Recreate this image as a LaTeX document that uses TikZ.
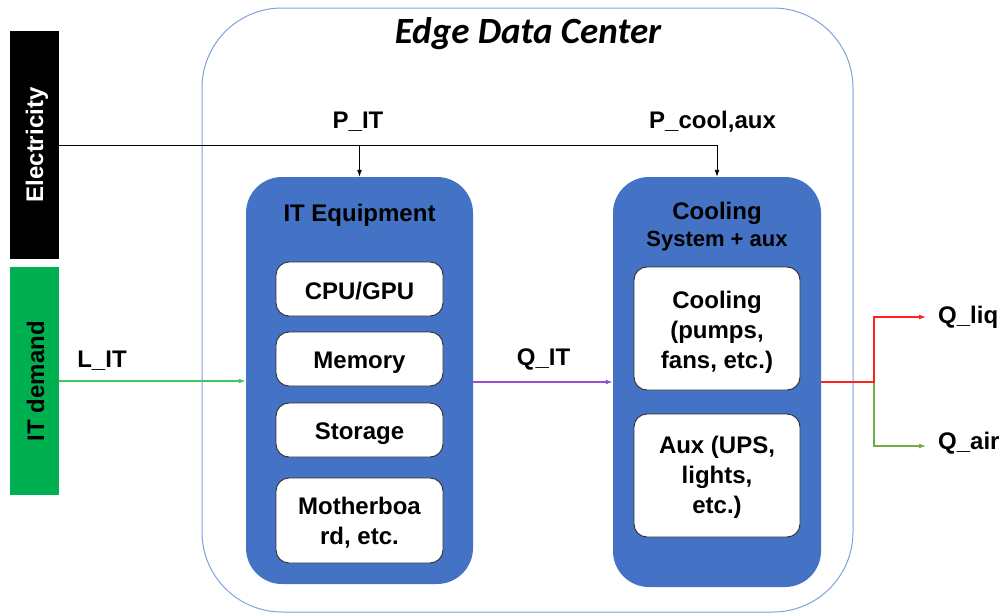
\documentclass[tikz,border=0pt]{standalone}
\usepackage{fontspec}
\setmainfont{Liberation Sans}
\newfontfamily\titlefont{Carlito}
\usetikzlibrary{arrows.meta}

\definecolor{itblue}{HTML}{4472C4}
\definecolor{hullblue}{HTML}{7FA2DA}
\definecolor{demandgreen}{HTML}{00B050}
\definecolor{loadgreen}{HTML}{3CC864}
\definecolor{heatpurple}{HTML}{9A50CC}
\definecolor{liqred}{HTML}{FF2020}
\definecolor{airgreen}{HTML}{70AD47}
\definecolor{partline}{HTML}{2E2E2E}

\tikzset{
  txt/.style={font=\bfseries\fontsize{24}{30}\selectfont},
  capline/.style={txt, inner sep=0pt, text depth=0pt},
  multiline/.style={txt, inner sep=0pt, align=center},
  sidebar/.style={minimum width=49pt, minimum height=228pt, inner sep=0pt},
  hull/.style={draw=hullblue, line width=1pt, rounded corners=80pt,
               minimum width=651pt, minimum height=604pt, inner sep=0pt},
  group/.style={fill=itblue, rounded corners=36pt, inner sep=0pt},
  part/.style={fill=white, draw=partline, line width=0.9pt, rounded corners=13pt,
               inner sep=0pt},
  flow/.style={line width=1.1pt, -{Latex[length=7pt,width=5pt]}},
  power/.style={line width=0.9pt, draw=black, -{Latex[length=7pt,width=5pt]}},
}

\begin{document}
\begin{tikzpicture}[x=1pt, y=-1pt]
\useasboundingbox (0,0) rectangle (1004,613);

% input bars
\node[sidebar, fill=black] (elec) at (34.5,145) {};
\node[capline, text=white, rotate=90] (electxt) at (elec.center) {Electricity};
\node[sidebar, fill=demandgreen] (dem) at (34.5,381) {};
\node[capline, rotate=90] (demtxt) at ([xshift=1pt]dem.center) {IT demand};

% data center envelope
\node[hull] (hull) at (527.5,310) {};
\node[font=\titlefont\bfseries\itshape\fontsize{37}{40}\selectfont, inner sep=0pt, text depth=0pt]
  (title) at (528,30.5) {Edge Data Center};

% IT equipment block
\node[group, minimum width=227pt, minimum height=407pt] (it) at (359.5,380.5) {};
\node[capline] (ittitle) at (359.5,212.5) {IT Equipment};
\node[part, minimum width=167pt, minimum height=54pt] (cpu) at (359.5,289) {};
\node[part, minimum width=167pt, minimum height=54pt] (mem) at (359.5,359) {};
\node[part, minimum width=167pt, minimum height=54pt] (sto) at (359.5,430) {};
\node[part, minimum width=167pt, minimum height=85pt] (mb) at (359.5,520.5) {};
\node[capline] (cputxt) at ([yshift=-2pt]cpu.center) {CPU/GPU};
\node[capline] (memtxt) at ([yshift=-1.5pt]mem.center) {Memory};
\node[capline] (stotxt) at ([yshift=-1.5pt]sto.center) {Storage};
\node[multiline] (mbtxt) at ([yshift=-2.5pt]mb.center) {Motherboa\\rd, etc.};

% cooling block
\node[group, minimum width=208pt, minimum height=410pt] (cool) at (717,382) {};
\node[capline] (cooltitle) at (717,210.5) {Cooling};
\node[font=\bfseries\fontsize{22}{26}\selectfont, inner sep=0pt, text depth=0pt]
  (coolsub) at (717,239) {System + aux};
\node[part, minimum width=166pt, minimum height=123pt] (fans) at (717,328.5) {};
\node[part, minimum width=166pt, minimum height=123pt] (aux) at (717,475.5) {};
\node[multiline] (fanstxt) at ([yshift=-4pt]fans.center) {Cooling\\(pumps,\\fans, etc.)};
\node[multiline] (auxtxt) at ([yshift=-1.5pt]aux.center) {Aux (UPS,\\lights,\\etc.)};

% power feed
\draw[power] (elec.east) -| (cool.north);
\draw[power] (it.north |- elec.east) -- (it.north);
\node[capline] (pit) at (358,120) {P\_IT};
\node[capline] (pcool) at (712.5,120) {P\_cool,aux};

% load and heat flows
\draw[flow, draw=loadgreen] (dem.east) -- (dem.east -| it.west);
\node[capline] (lit) at (102,359) {L\_IT};
\draw[flow, draw=heatpurple] (it.east |- cool.west) -- (cool.west);
\node[capline] (qit) at (543.5,357) {Q\_IT};

% heat rejection split
\coordinate (split) at (874,382);
\coordinate (liqend) at (926,317);
\coordinate (airend) at (926,446);
\node[capline, anchor=west] (qliq) at (938,314.5) {Q\_liq};
\node[capline, anchor=west] (qair) at (938,441) {Q\_air};
\draw[flow, draw=airgreen] (split) |- (airend);
\draw[flow, draw=liqred] (cool.east) -- (split) |- (liqend);
\end{tikzpicture}
\end{document}
